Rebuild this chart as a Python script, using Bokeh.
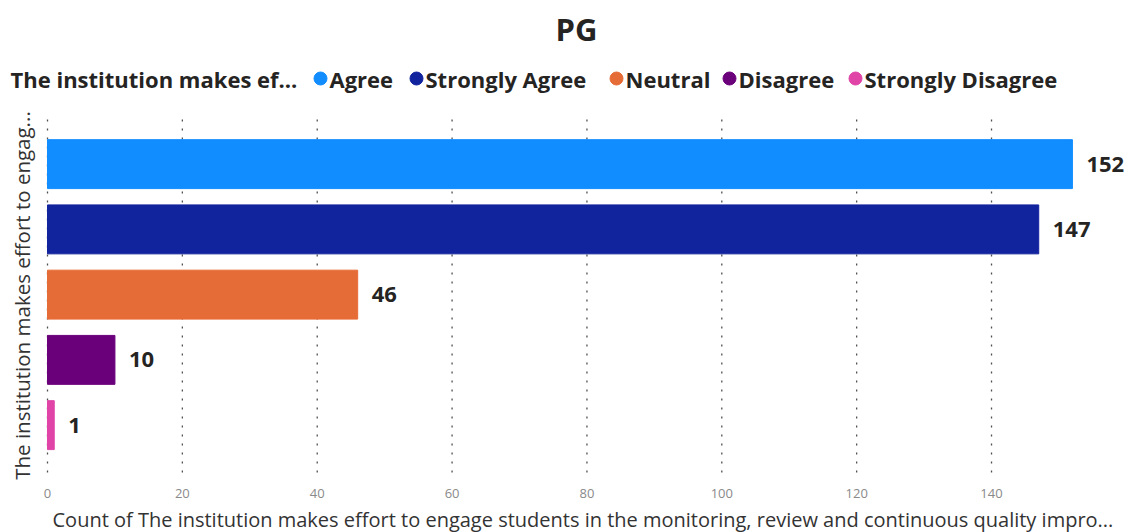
import math
from bokeh.plotting import figure
from bokeh.models import Range1d, ColumnDataSource
from bokeh.core.properties import value
from bokeh.embed import file_html
from bokeh.resources import INLINE

title = "PG"
legend_title = "The institution makes ef..."
categories = ["Agree", "Strongly Agree", "Neutral", "Disagree", "Strongly Disagree"]
counts = [152, 147, 46, 10, 1]
colors = ["#118DFF", "#12239E", "#E66C37", "#6B007B", "#E044A7"]
x_ticks = [0, 20, 40, 60, 80, 100, 120, 140]
y_label = "The institution makes effort to engag..."
x_label = "Count of The institution makes effort to engage students in the monitoring, review and continuous quality impro..."

FONT = "Open Sans"
W, H = 1133, 532
X0_PX = 47            # pixel position of value 0 inside the frame
PX_PER_UNIT = 6.743   # horizontal scale
BAND = 65.25          # pixels per category band
BAND0_PX = 131        # top of first band (pixels from frame top)

x_start = -X0_PX / PX_PER_UNIT
x_end = x_start + W / PX_PER_UNIT
y_top = -BAND0_PX / BAND
y_bottom = y_top + H / BAND

def fx(px):   # frame pixel -> data x
    return x_start + px / PX_PER_UNIT

def fy(px):   # frame pixel -> data y
    return y_top + px / BAND

p = figure(width=W, height=H, output_backend="svg", toolbar_location=None,
           x_range=Range1d(x_start, x_end), y_range=Range1d(y_bottom, y_top),
           min_border=0)
p.outline_line_color = None
p.background_fill_color = "white"
p.border_fill_color = "white"
p.xaxis.visible = False
p.yaxis.visible = False
p.xgrid.grid_line_color = None
p.ygrid.grid_line_color = None

# dotted vertical gridlines over the plot area
gsrc = ColumnDataSource(dict(x=x_ticks, y0=[fy(119)] * len(x_ticks),
                             y1=[fy(479)] * len(x_ticks),
                             ly=[fy(493)] * len(x_ticks),
                             lab=[str(t) for t in x_ticks]))
p.segment(x0="x", x1="x", y0="y0", y1="y1", source=gsrc,
          line_color="#505050", line_dash="2 7", line_width=1.3)
# x tick labels
p.text(x="x", y="ly", text="lab", source=gsrc, text_align="center",
       text_baseline="middle", text_font=value(FONT), text_font_size="13px",
       text_color="#8a8a8a")

ypos = [i + 0.5 for i in range(len(categories))]
src = ColumnDataSource(dict(cat=categories, y=ypos, v=counts, c=colors,
                            lbl=[str(v) for v in counts]))
p.hbar(y="y", right="v", left=0, height=0.75, color="c", source=src)
p.text(x="v", y="y", text="lbl", source=src, x_offset=14,
       text_baseline="middle", text_align="left", text_font=value(FONT),
       text_font_style="bold", text_font_size="22px", text_color="#252423")

# x axis label
p.text(x=[fx(52)], y=[fy(519)], text=[x_label], text_align="left",
       text_baseline="middle", text_font=value(FONT), text_font_size="20px",
       text_color="#333333")

# y axis label (rotated text)
p.text(x=[fx(21)], y=[fy(295)], text=[y_label], angle=math.pi / 2,
       text_align="center", text_baseline="middle", text_font=value(FONT),
       text_font_size="20.5px", text_color="#333333")

# title
p.text(x=[fx(576)], y=[fy(28)], text=[title], text_align="center",
       text_baseline="middle", text_font=value(FONT), text_font_style="bold",
       text_font_size="31px", text_color="#252423")

# legend row
LEG_Y = fy(78)
p.text(x=[fx(10)], y=[LEG_Y], text=[legend_title], text_align="left",
       text_baseline="middle", text_font=value(FONT), text_font_style="bold",
       text_font_size="22px", text_color="#252423")
dot_px = [320, 416, 616, 729, 855]
lsrc = ColumnDataSource(dict(
    xd=[fx(d) for d in dot_px], xt=[fx(d + 9) for d in dot_px],
    y=[LEG_Y] * len(categories), lab=categories, c=colors))
p.scatter(x="xd", y="y", source=lsrc, marker="circle", size=13, color="c")
p.text(x="xt", y="y", text="lab", source=lsrc, text_align="left",
       text_baseline="middle", text_font=value(FONT), text_font_style="bold",
       text_font_size="22px", text_color="#252423")

open("out.html", "w").write(file_html(p, INLINE))
